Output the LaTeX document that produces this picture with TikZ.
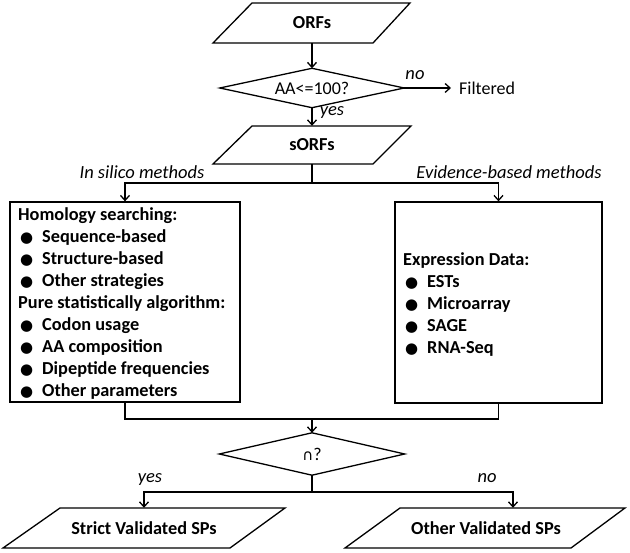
\documentclass[tikz,border=0pt]{standalone}
\usepackage{fontspec}
\setmainfont{Carlito}
\newfontfamily\sym{DejaVu Sans}
\usetikzlibrary{arrows.meta,calc}
\newcommand\itm[1]{\hspace*{2pt}\makebox[22pt][l]{\sym\fontsize{15}{15}\selectfont ●}#1}
\begin{document}
\begin{tikzpicture}[x=1pt,y=-1pt,
  conn/.style={draw, line width=1.3pt},
  arr/.style={conn, -{Straight Barb[length=5pt,width=9pt,line width=1.3pt]}},
  bigtxt/.style={font=\fontsize{18.3}{22}\selectfont\bfseries},
  io/.style={draw=none, inner sep=0pt, bigtxt},
  outline/.style={draw, line width=1.3pt, line join=miter},
  lbl/.style={inner sep=0pt, font=\fontsize{18.5}{20}\selectfont\itshape},
  reg/.style={inner sep=0pt, font=\fontsize{18}{20}\selectfont},
  boxtxt/.style={inner sep=0pt, align=left, bigtxt}]
\useasboundingbox (0,0) rectangle (630,553);

% ORFs
\node[io, minimum width=160pt, minimum height=40pt] (orfs) at (312,23) {ORFs};
\draw[outline] (252,3) -- (410,3) -- (373,43) -- (213,43) -- cycle;

% diamond 1
\node[reg, minimum width=184pt, minimum height=39pt] (d1) at (312,88) {AA<=100?};
\draw[outline] (d1.north) -- (d1.east) -- (d1.south) -- (d1.west) -- cycle;
\node[reg, anchor=west] (filt) at (459,88) {Filtered};
\node[lbl] (no1) at (415,75) {no};
\node[lbl] (yes1) at (332,113) {yes};

% sORFs
\node[io, minimum width=160pt, minimum height=38pt] (sorfs) at (312,145) {sORFs};
\draw[outline] (252,126) -- (411,126) -- (373,164) -- (213,164) -- cycle;

\draw[arr] (orfs.south) -- (d1.north);
\draw[arr] (d1.east) -- ([xshift=-8pt]filt.west);
\draw[arr] (d1.south) -- (sorfs.north);

% boxes
\node[draw, line width=1.3pt, minimum width=230pt, minimum height=200pt, inner sep=0pt] (lbox) at (125,302) {};
\node[draw, line width=1.3pt, minimum width=207pt, minimum height=201pt, inner sep=0pt] (rbox) at (498.5,302.5) {};

\node[boxtxt, anchor=west] (ltext) at (18,304) {Homology searching:\\
\itm{Sequence-based}\\
\itm{Structure-based}\\
\itm{Other strategies}\\
Pure statistically algorithm:\\
\itm{Codon usage}\\
\itm{AA composition}\\
\itm{Dipeptide frequencies}\\
\itm{Other parameters}};

\node[boxtxt, anchor=west] (rtext) at (403,305) {Expression Data:\\
\itm{ESTs}\\
\itm{Microarray}\\
\itm{SAGE}\\
\itm{RNA-Seq}};

\coordinate (j1) at (312,183);
\draw[conn] (sorfs.south) -- (j1);
\draw[arr] (j1) -| (lbox.north);
\draw[arr] (j1) -| (rbox.north);
\node[lbl] (insil) at (142,172) {In silico methods};
\node[lbl] (evid) at (509,172) {Evidence-based methods};

% diamond 2
\node[reg, minimum width=185pt, minimum height=42pt] (d2) at (312,454) {{\sym\fontsize{15}{15}\selectfont ∩}?};
\draw[outline] (d2.north) -- (d2.east) -- (d2.south) -- (d2.west) -- cycle;

\coordinate (j2) at (312,419);
\draw[conn] (lbox.south) |- (j2);
\draw[conn] (rbox.south) |- (j2);
\draw[arr] (j2) -- (d2.north);

% outputs
\node[io, minimum width=150pt, minimum height=40pt] (strict) at (144,528) {Strict Validated SPs};
\draw[outline] (60,508) -- (285,508) -- (230,548) -- (3,548) -- cycle;
\node[io, minimum width=150pt, minimum height=40pt] (other) at (486,528) {Other Validated SPs};
\draw[outline] (400,508) -- (625,508) -- (571,548) -- (345,548) -- cycle;

\coordinate (j3) at (312,492);
\draw[conn] (d2.south) -- (j3);
\draw[arr] (j3) -| (strict.north);
\draw[arr] (j3) -| ([xshift=27pt]other.north);
\node[lbl] (yes2) at (150,480) {yes};
\node[lbl] (no2) at (487,478) {no};
\end{tikzpicture}
\end{document}
